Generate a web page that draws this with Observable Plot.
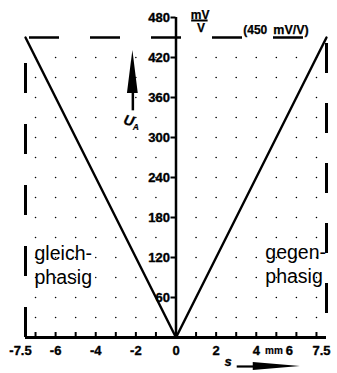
<!DOCTYPE html>
<html><head><meta charset="utf-8">
<script src="https://cdn.jsdelivr.net/npm/d3@7"></script>
<script src="https://cdn.jsdelivr.net/npm/@observablehq/plot@0.6"></script>
<style>html,body{margin:0;padding:0;background:#fff} svg{display:block}</style>
</head><body><div id="chart"></div>
<script>
// ---- data ----
const displacement = [-7.5, 0, 7.5];          // s in mm
const outputVoltage = [450, 0, 450];          // U_A in mV/V
const xTickLabels = [-6, -4, -2, 0, 2, 4];
const xEdgeLabels = [-7.5, 7.5];
const xSixLabel = [6];
const xMinorTicks = [-7, -6, -5, -4, -3, -2, -1, 0, 1, 2, 3, 4, 5, 6, 7];
const yTicks = [60, 120, 180, 240, 300, 360, 420, 480];
const gridX = [-7, -6, -5, -4, -3, -2, -1, 1, 2, 3, 4, 5, 6, 7];
const gridY = [30, 60, 90, 120, 150, 180, 210, 240, 270, 300, 330, 360, 390, 420];
const rangeLimits = [-7.5, 7.5];
const fullScale = [450];
const yAxisAt = [0];

// ---- layout ----
const W = 337, H = 373, mL = 25, mR = 11, mT = 17, mB = 36;
const frameW = W - mL - mR, frameH = H - mT - mB;
const xFrac = (v) => (v + 7.5) / 15;   // position within frame
const tickLen = 5;
const font = "'Liberation Sans', Arial, sans-serif";
const heavy = {fontWeight: "bold", stroke: "#000", strokeWidth: 0.35, fill: "#000"};

const curve = displacement.map((s, i) => ({s, u: outputVoltage[i]}));
const grid = d3.cross(gridX, gridY);

const chart = Plot.plot({
  width: W, height: H,
  marginLeft: mL, marginRight: mR, marginTop: mT, marginBottom: mB,
  style: {fontFamily: font, background: "#fff", color: "#000"},
  x: {domain: [-7.5, 7.5], axis: null},
  y: {domain: [0, 480], axis: null},
  marks: [
    // dotted grid
    Plot.dot(grid, {x: d => d[0], y: d => d[1], r: 0.8, fill: "#000", stroke: null}),
    // dashed range limits
    Plot.ruleX([rangeLimits[0]], {y1: 0, y2: fullScale[0], strokeWidth: 3, strokeDasharray: "30,31"}),
    Plot.ruleX([rangeLimits[1]], {y1: 0, y2: fullScale[0], strokeWidth: 3, strokeDasharray: "30,30", strokeDashoffset: 36}),
    Plot.ruleY(fullScale, {x1: rangeLimits[0], x2: rangeLimits[1], strokeWidth: 2.5, strokeDasharray: "30,31", strokeDashoffset: 57}),
    // characteristic
    Plot.line(curve, {x: "s", y: "u", strokeWidth: 2.4, strokeLinejoin: "miter"}),
    // axes lines
    Plot.ruleX(yAxisAt, {y1: 0, y2: 480, strokeWidth: 2.5}),
    Plot.ruleY([0], {x1: -7.5, x2: 7.5, strokeWidth: 3}),
    // x minor ticks (pointing up)
    Plot.ruleX(xMinorTicks, {insetTop: frameH - tickLen, strokeWidth: 2}),
    // y ticks (pointing left of the y axis)
    Plot.ruleY(yTicks, {insetLeft: frameW * xFrac(0) - tickLen, insetRight: frameW * (1 - xFrac(0)), strokeWidth: 2}),
    // x tick labels
    Plot.text(xTickLabels, {x: d => d, y: () => 0, dy: 13, text: d => String(d), fontSize: 13, ...heavy}),
    Plot.text(xEdgeLabels, {x: d => d, y: () => 0, dy: 13, dx: -5, text: d => String(d), fontSize: 13, ...heavy}),
    Plot.text(xSixLabel, {x: d => d, y: () => 0, dy: 13, dx: -7, text: d => String(d), fontSize: 13, ...heavy}),
    // y tick labels
    Plot.text(yTicks, {x: () => 0, y: d => d, dx: -6, textAnchor: "end", fontSize: 13, ...heavy}),
    // unit labels
    Plot.text(["mm"], {x: () => 4.88, y: () => 0, dy: 13, fontSize: 10, ...heavy, strokeWidth: 0.2}),
    Plot.text(["mV"], {x: () => 1.2, y: () => 484, fontSize: 12, ...heavy, strokeWidth: 0.25}),
    Plot.ruleY([475.5], {x1: 0.78, x2: 1.6, strokeWidth: 2}),
    Plot.text(["V"], {x: () => 1.25, y: () => 463.5, fontSize: 12, ...heavy, strokeWidth: 0.25}),
    Plot.text(["(450"], {x: () => 3.35, y: () => 456, textAnchor: "start", lineAnchor: "bottom", fontSize: 12, ...heavy, strokeWidth: 0.25}),
    Plot.text(["mV/V)"], {x: () => 4.85, y: () => 456, textAnchor: "start", lineAnchor: "bottom", fontSize: 12.5, ...heavy, strokeWidth: 0.25}),
    // region labels
    Plot.text(["gleich-\nphasig"], {x: () => -7.05, y: () => 81, textAnchor: "start", lineAnchor: "bottom", lineHeight: 1.2, fontSize: 19.5}),
    Plot.text(["gegen-\nphasig"], {x: () => 4.45, y: () => 82.5, textAnchor: "start", lineAnchor: "bottom", lineHeight: 1.2, fontSize: 19.5}),
    // U_A arrow
    Plot.ruleX([-2.15], {y1: 340, y2: 370, strokeWidth: 2.5}),
    Plot.areaX([{y: 366, a: -2.42, b: -1.88}, {y: 430.5, a: -2.15, b: -2.15}], {y: "y", x1: "a", x2: "b", fill: "#000"}),
    Plot.text(["U"], {x: () => -2.35, y: () => 325, fontSize: 14, fontStyle: "italic", rotate: 15, ...heavy, strokeWidth: 0.3}),
    Plot.text(["A"], {x: () => -2.0, y: () => 315, fontSize: 8.5, fontStyle: "italic", ...heavy, strokeWidth: 0.2}),
    // s arrow
    Plot.text(["s"], {x: () => 2.6, y: () => -37, fontSize: 13, fontStyle: "italic", ...heavy, strokeWidth: 0.3}),
    Plot.ruleY([-43.5], {x1: 3.05, x2: 4.0, strokeWidth: 2.2}),
    Plot.areaY([{x: 3.85, a: -49.5, b: -37.5}, {x: 6.2, a: -43.5, b: -43.5}], {x: "x", y1: "a", y2: "b", fill: "#000"})
  ]
});
document.getElementById("chart").appendChild(chart);
</script>
</body></html>
